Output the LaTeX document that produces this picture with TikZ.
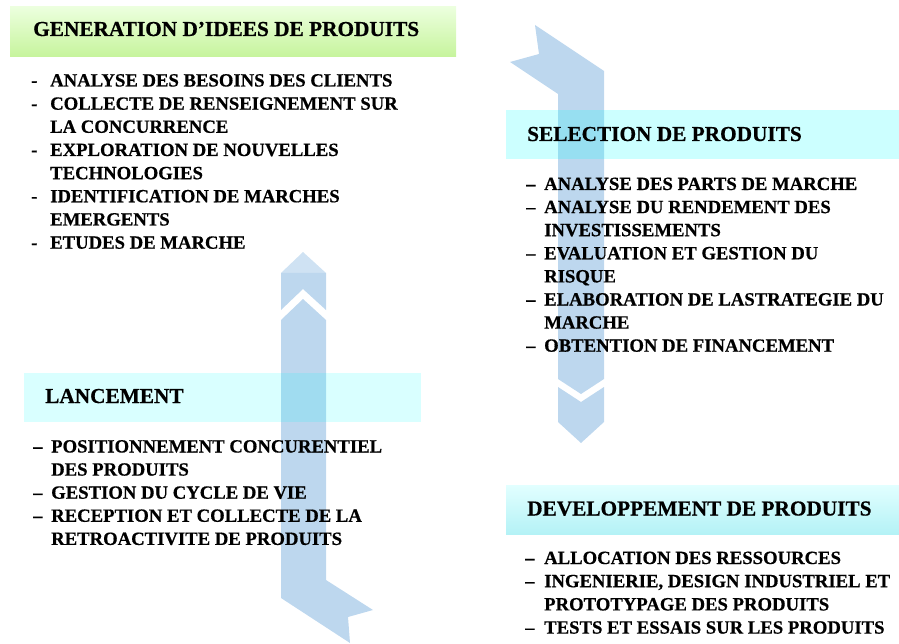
\documentclass[tikz,border=0pt]{standalone}
\usepackage{fontspec}
\setmainfont{Liberation Serif}[BoldFeatures={FakeBold=0.6}]
\definecolor{arrblue}{RGB}{189,215,238}
\definecolor{arrlight}{RGB}{207,226,243}
\definecolor{greentop}{RGB}{236,255,222}
\definecolor{greenbot}{RGB}{198,244,156}
\definecolor{cyantop}{RGB}{226,255,255}
\definecolor{cyanbot}{RGB}{180,242,246}
\definecolor{cy}{RGB}{0,255,255}
\begin{document}
\begin{tikzpicture}[x=1pt,y=-1pt,
  hdr/.style={anchor=base west, inner sep=0pt, font=\fontsize{21.3}{25}\selectfont\bfseries},
  itm/.style={anchor=base west, inner sep=0pt, font=\fontsize{18.7}{23}\selectfont\bfseries},
  band/.style={fill=cy, fill opacity=0.2, draw=none},
  arr/.style={fill=arrblue, draw=none}]
\useasboundingbox (0,0) rectangle (899,644);
% ---- right (downward) arrow
\fill[arr] (535,25) -- (604,71) -- (604,379) -- (581,394) -- (558,379) -- (558,94) -- (510,62) -- (539,54) -- cycle;
\fill[arr] (558,387) -- (581,402) -- (604,387) -- (604,422) -- (581,443) -- (558,422) -- cycle;
% ---- left (upward) arrow
\fill[arrlight] (303,252) -- (326,273) -- (281,273) -- cycle;
\fill[arr] (281,273) -- (326,273) -- (326,310) -- (303,289) -- (281,310) -- cycle;
\fill[arr] (281,320) -- (303,299) -- (326,320) -- (326,580) -- (373,610) -- (348,617) -- (350,643) -- (281,598) -- cycle;
% ---- bands
\shade[top color=greentop, bottom color=greenbot] (10,7) rectangle (456,57);
\fill[band] (506,110) rectangle (899,159);
\fill[cy, fill opacity=0.15] (24,373) rectangle (421,422);
\shade[top color=cyantop, bottom color=cyanbot] (506,485) rectangle (899,534);
% ---- headers
\node[hdr] (h1) at (33,36) {GENERATION D’IDEES DE PRODUITS};
\node[hdr] (h2) at (527,141) {SELECTION DE PRODUITS};
\node[hdr] (h3) at (45,403) {LANCEMENT};
\node[hdr] (h4) at (527,515.5) {DEVELOPPEMENT DE PRODUITS};
% ---- list 1
\node[itm] (d11) at (31,86.5) {-};
\node[itm] (t11) at (50,86.5) {ANALYSE DES BESOINS DES CLIENTS};
\node[itm] (d12) at (31,109.7) {-};
\node[itm] (t12) at (50,109.7) {COLLECTE DE RENSEIGNEMENT SUR};
\node[itm] (t12b) at (50,132.8) {LA CONCURRENCE};
\node[itm] (d13) at (31,156) {-};
\node[itm] (t13) at (50,156) {EXPLORATION DE NOUVELLES};
\node[itm] (t13b) at (50,179.2) {TECHNOLOGIES};
\node[itm] (d14) at (31,202.3) {-};
\node[itm] (t14) at (50,202.3) {IDENTIFICATION DE MARCHES};
\node[itm] (t14b) at (50,225.5) {EMERGENTS};
\node[itm] (d15) at (31,248.7) {-};
\node[itm] (t15) at (50,248.7) {ETUDES DE MARCHE};
% ---- list 2
\node[itm] (d21) at (526,190) {–};
\node[itm] (t21) at (544,190) {ANALYSE DES PARTS DE MARCHE};
\node[itm] (d22) at (526,213.1) {–};
\node[itm] (t22) at (544,213.1) {ANALYSE DU RENDEMENT DES};
\node[itm] (t22b) at (544,236.2) {INVESTISSEMENTS};
\node[itm] (d23) at (526,259.3) {–};
\node[itm] (t23) at (544,259.3) {EVALUATION ET GESTION DU};
\node[itm] (t23b) at (544,282.4) {RISQUE};
\node[itm] (d24) at (526,305.5) {–};
\node[itm] (t24) at (544,305.5) {ELABORATION DE LASTRATEGIE DU};
\node[itm] (t24b) at (544,328.6) {MARCHE};
\node[itm] (d25) at (526,351.7) {–};
\node[itm] (t25) at (544,351.7) {OBTENTION DE FINANCEMENT};
% ---- list 3
\node[itm] (d31) at (33,452.5) {–};
\node[itm] (t31) at (51,452.5) {POSITIONNEMENT CONCURENTIEL};
\node[itm] (t31b) at (51,475.6) {DES PRODUITS};
\node[itm] (d32) at (33,498.7) {–};
\node[itm] (t32) at (51,498.7) {GESTION DU CYCLE DE VIE};
\node[itm] (d33) at (33,521.8) {–};
\node[itm] (t33) at (51,521.8) {RECEPTION ET COLLECTE DE LA};
\node[itm] (t33b) at (51,544.9) {RETROACTIVITE DE PRODUITS};
% ---- list 4
\node[itm] (d41) at (525,564) {–};
\node[itm] (t41) at (544,564) {ALLOCATION DES RESSOURCES};
\node[itm] (d42) at (525,587.2) {–};
\node[itm] (t42) at (544,587.2) {INGENIERIE, DESIGN INDUSTRIEL ET};
\node[itm] (t42b) at (544,610.4) {PROTOTYPAGE DES PRODUITS};
\node[itm] (d43) at (525,633.6) {–};
\node[itm] (t43) at (544,633.6) {TESTS ET ESSAIS SUR LES PRODUITS};
\end{tikzpicture}
\end{document}
